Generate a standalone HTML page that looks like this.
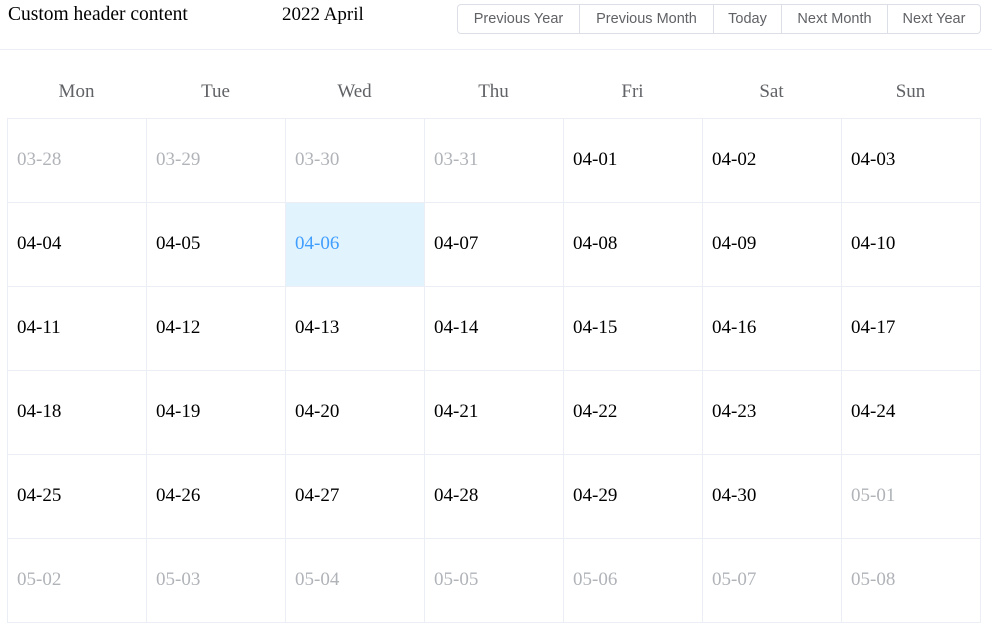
<!DOCTYPE html>
<html><head><meta charset="utf-8"><style>
body{margin:0;width:1003px;height:632px;background:#fff;font-family:"Liberation Serif",serif;overflow:hidden;position:relative}
.hdr{position:absolute;top:0;left:0;width:992px;height:49px;border-bottom:1px solid #ebeef5}
.t1{position:absolute;left:8px;top:4px;font-size:19.5px;color:#000}
.t2{position:absolute;left:282px;top:4px;font-size:19px;color:#000}
.btns{position:absolute;left:457px;top:4px;height:28px;display:flex;border:1px solid #dcdfe6;border-radius:4px;overflow:hidden}
.btn{font-family:"Liberation Sans",sans-serif;font-size:14.5px;color:#606266;line-height:28px;text-align:center;border-left:1px solid #dcdfe6;box-sizing:border-box}
.btn:first-child{border-left:none}
.wd{position:absolute;top:81px;font-size:19px;color:#606266;text-align:center;width:139px}
table{position:absolute;left:7px;top:118px;border-collapse:collapse;table-layout:fixed;width:974px}
td{height:83px;border:1px solid #ebeef5;padding:0;vertical-align:top;font-size:19px;color:#000}
td span{display:block;padding:30px 0 0 9px}
td.o{color:#b0b3b8}
td.s{background:#e1f3fd;color:#409eff}
</style></head><body>
<div class="hdr">
<div class="t1">Custom header content</div>
<div class="t2">2022 April</div>
<div class="btns">
<div class="btn" style="width:121px">Previous Year</div>
<div class="btn" style="width:134px">Previous Month</div>
<div class="btn" style="width:68px">Today</div>
<div class="btn" style="width:106px">Next Month</div>
<div class="btn" style="width:93px">Next Year</div>
</div></div>
<div id="wds"></div>
<table id="grid"></table>
<script>
const weekdays=["Mon","Tue","Wed","Thu","Fri","Sat","Sun"];
const dates=["03-28","03-29","03-30","03-31","04-01","04-02","04-03","04-04","04-05","04-06","04-07","04-08","04-09","04-10","04-11","04-12","04-13","04-14","04-15","04-16","04-17","04-18","04-19","04-20","04-21","04-22","04-23","04-24","04-25","04-26","04-27","04-28","04-29","04-30","05-01","05-02","05-03","05-04","05-05","05-06","05-07","05-08"];
const selected="04-06";
const month="04";
const wds=document.getElementById('wds');
weekdays.forEach((w,i)=>{const d=document.createElement('div');d.className='wd';d.style.left=(7+i*139)+'px';d.textContent=w;


wds.appendChild(d);});
const g=document.getElementById('grid');let tr;
dates.forEach((dt,i)=>{if(i%7==0){tr=document.createElement('tr');g.appendChild(tr);}
const td=document.createElement('td');
if(!dt.startsWith(month))td.className='o';
if(dt===selected)td.className='s';


const s=document.createElement('span');s.textContent=dt;td.appendChild(s);tr.appendChild(td);});
</script>
</body></html>
